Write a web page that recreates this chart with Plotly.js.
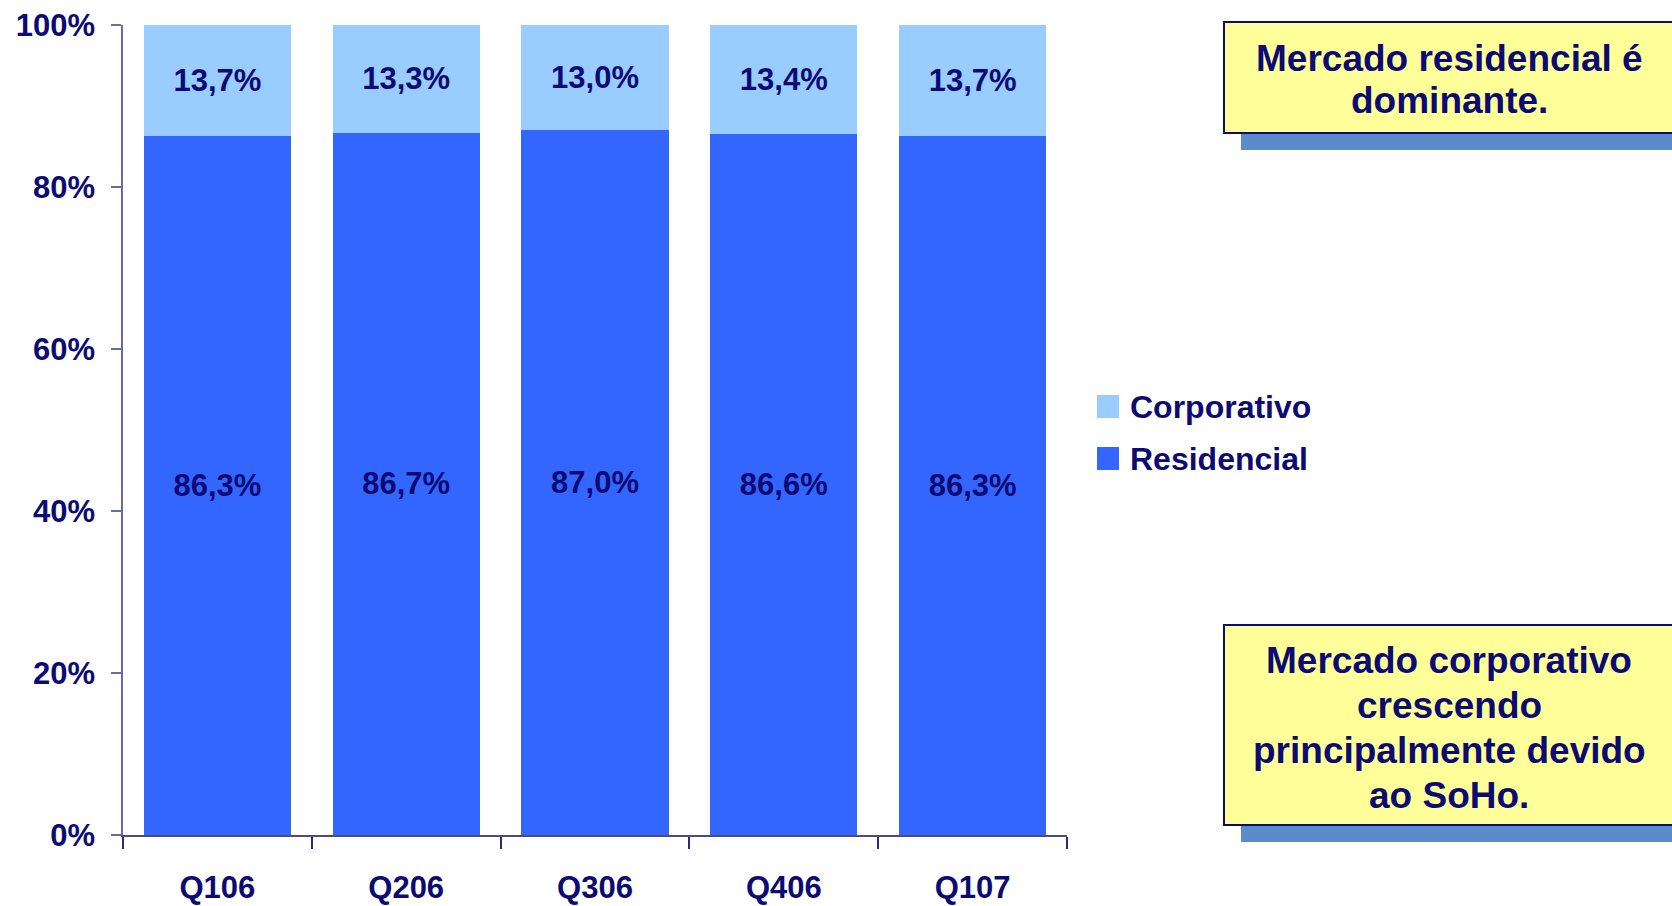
<!DOCTYPE html>
<html>
<head>
<meta charset="utf-8">
<script src="https://cdn.plot.ly/plotly-3.0.1.min.js"></script>
<style>
  html, body { margin: 0; padding: 0; background: #fff; }
  #chart { width: 1672px; height: 906px; }
</style>
</head>
<body>
<div id="chart"></div>
<script>
// Share of each market per quarter (%)
var quarters = ['Q106', 'Q206', 'Q306', 'Q406', 'Q107'];
var residencial = [86.3, 86.7, 87.0, 86.6, 86.3];
var corporativo = [13.7, 13.3, 13.0, 13.4, 13.7];
var yTicks = [0, 20, 40, 60, 80, 100];
var legendNames = ['Corporativo', 'Residencial'];
var noteTop = ['Mercado residencial é', 'dominante.'];
var noteBottom = ['Mercado corporativo', 'crescendo', 'principalmente devido', 'ao SoHo.'];

var navy = '#0b0b73';
var sans = "'Liberation Sans', Arial, sans-serif";
var colors = { Corporativo: '#99ccff', Residencial: '#3366ff' };

// plot area in pixels, used to place the notes and legend in paper coords
var L = 123, R = 1067, T = 25, B = 835;
function px(x) { return (x - L) / (R - L); }
function py(y) { return (B - y) / (B - T); }

function pct(v) { return v.toFixed(1).replace('.', ',') + '%'; }

var labelFont = { family: sans, size: 31, color: navy, weight: 'bold' };

var traces = [
  {
    type: 'bar', name: 'Residencial', x: quarters, y: residencial,
    marker: { color: colors.Residencial },
    text: residencial.map(pct), textposition: 'inside', insidetextanchor: 'middle',
    insidetextfont: labelFont, hoverinfo: 'x+y', showlegend: false
  },
  {
    type: 'bar', name: 'Corporativo', x: quarters, y: corporativo,
    marker: { color: colors.Corporativo },
    text: corporativo.map(pct), textposition: 'inside', insidetextanchor: 'middle',
    insidetextfont: labelFont, hoverinfo: 'x+y', showlegend: false
  }
];

var shapes = [];
var annotations = [];

// note boxes with offset shadow
function noteBox(top, bottom, lines, firstY, step) {
  shapes.push({ type: 'rect', xref: 'paper', yref: 'paper', layer: 'above',
    x0: px(1241), x1: px(1690), y0: py(top + 15), y1: py(bottom + 17),
    fillcolor: '#5b8bcb', line: { width: 0 } });
  shapes.push({ type: 'rect', xref: 'paper', yref: 'paper', layer: 'above',
    x0: px(1224), x1: px(1690), y0: py(top), y1: py(bottom),
    fillcolor: '#ffff99', line: { color: navy, width: 2 } });
  lines.forEach(function(t, i) {
    annotations.push({ xref: 'paper', yref: 'paper', x: px(1449), y: py(firstY + i * step),
      xanchor: 'center', yanchor: 'middle', showarrow: false, text: t,
      font: { family: sans, size: 37, color: navy, weight: 'bold' } });
  });
}
noteBox(22, 133, noteTop, 58, 43);
noteBox(625, 825, noteBottom, 660, 45);

// legend
legendNames.forEach(function(n, i) {
  var cy = 406 + i * 52;
  shapes.push({ type: 'rect', xref: 'paper', yref: 'paper',
    x0: px(1097), x1: px(1119), y0: py(cy - 11), y1: py(cy + 12),
    fillcolor: colors[n], line: { width: 0 } });
  annotations.push({ xref: 'paper', yref: 'paper', x: px(1128), y: py(cy + 1),
    xanchor: 'left', yanchor: 'middle', showarrow: false, text: n,
    font: { family: sans, size: 32, color: navy, weight: 'bold' } });
});

var layout = {
  width: 1672, height: 906,
  margin: { l: L, r: 1672 - R, t: T, b: 906 - B, pad: 0 },
  barmode: 'stack',
  bargap: 0.22,
  showlegend: false,
  paper_bgcolor: '#ffffff',
  plot_bgcolor: '#ffffff',
  xaxis: {
    type: 'category', range: [-0.5, 4.5],
    showline: true, linecolor: '#4a4a8c', linewidth: 1.5,
    ticks: 'outside', tickson: 'boundaries', ticklen: 12, tickcolor: '#2a2a80', tickwidth: 1.5,
    tickfont: labelFont, ticklabelstandoff: 24, showgrid: false, zeroline: false
  },
  yaxis: {
    range: [0, 100], tickvals: yTicks, ticktext: yTicks.map(function(v) { return v + '%'; }),
    showline: true, linecolor: '#6a6aa8', linewidth: 1.5,
    ticks: 'outside', ticklen: 10, tickcolor: '#6a6aa8', tickwidth: 1.5,
    tickfont: labelFont, ticklabelstandoff: 10, showgrid: false, zeroline: false
  },
  shapes: shapes,
  annotations: annotations
};

Plotly.newPlot('chart', traces, layout, { displayModeBar: false, responsive: false });
</script>
</body>
</html>
